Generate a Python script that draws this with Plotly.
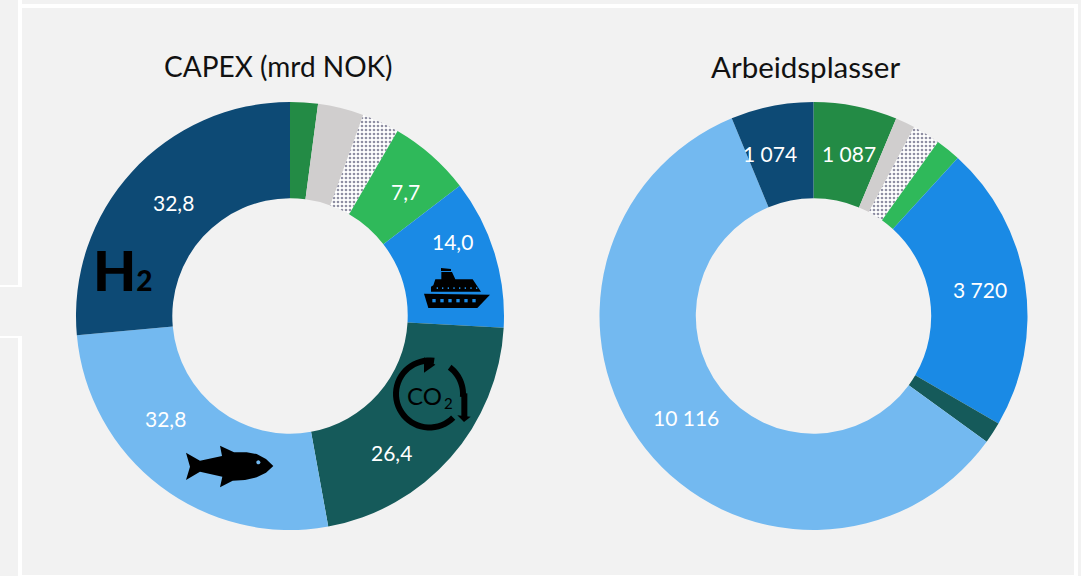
import numpy as np
import plotly.graph_objects as go

W, H = 1081, 576

segments = ["Grønn", "Grå", "Skravert", "Lysegrønn", "Skip", "CO2", "Fisk", "H2"]
capex_values = [2.6, 4.3, 3.5, 7.7, 14.0, 26.4, 32.8, 32.8]
jobs_values = [1087, 254, 360, 326, 3720, 278, 10116, 1074]
colors = ["#238b45", "#d0cece", "#ffffff", "#2fb95a", "#1a8ae5", "#155a5a", "#73b9f0", "#0d4a75"]
capex_title = "CAPEX (mrd NOK)"
jobs_title = "Arbeidsplasser"
capex_labelled = {3: (405, 191), 4: (452, 242), 5: (391, 452), 6: (165, 418), 7: (173, 202)}
jobs_labelled = {0: (849, 153), 4: (980, 289), 6: (686, 417), 7: (770, 153)}

FONT = "Lato"
BG = "#f2f2f2"


def px(x):
    return x / W


def py(y):
    return 1 - y / H


def path(points, close=True):
    s = "M" + " L".join(f"{px(x):.5f},{py(y):.5f}" for x, y in points)
    return s + (" Z" if close else "")


def poly(points, color):
    return dict(type="path", xref="paper", yref="paper", path=path(points), fillcolor=color, line_width=0, layer="above")


def rect(x0, y0, x1, y1, color="#ffffff", layer="below"):
    return dict(type="rect", xref="paper", yref="paper", x0=px(x0), x1=px(x1), y0=py(y0), y1=py(y1),
                fillcolor=color, line_width=0, layer=layer)


def pie(values, x0, x1):
    return go.Pie(
        values=values, labels=segments, sort=False, direction="clockwise", rotation=0, hole=0.55,
        marker=dict(colors=colors, line=dict(width=0),
                    pattern=dict(shape=["", "", ".", "", "", "", "", ""], fgcolor="#8f8fa3", bgcolor="#ffffff",
                                 size=4, solidity=0.35)),
        textinfo="none", showlegend=False, hoverinfo="label+value",
        domain=dict(x=[px(x0), px(x1)], y=[py(530), py(102)]),
    )


fig = go.Figure([pie(capex_values, 76, 504), pie(jobs_values, 599.5, 1027.5)])

shapes = [
    rect(18, 0, 22, 287), rect(18, 4, 1078, 8), rect(0, 285, 22, 287), rect(0, 336, 22, 338),
    rect(18, 336, 22, 576), rect(1074, 4, 1078, 576), rect(22, 575, 1074, 576),
]

# Ship icon
to_ship = lambda pts: [(280 + a / 3, 90 + b / 3) for a, b in pts]
shapes.append(poly(to_ship([(432, 611), (630, 614), (592, 654), (445, 654)]), "#000000"))
shapes.append(poly(to_ship([(453, 605), (603, 605), (578, 568), (526, 568), (516, 546), (484, 546), (484, 568),
                            (466, 568), (460, 586), (453, 590)]), "#000000"))
shapes.append(poly(to_ship([(483, 534), (513, 537), (513, 543), (483, 543)]), "#000000"))
for wx in [462, 486, 510, 534, 558, 582]:
    shapes.append(poly(to_ship([(wx - 5, 627), (wx + 5, 627), (wx + 5, 637), (wx - 5, 637)]), "#1a8ae5"))
for wx in [472, 488, 505, 522, 539, 556, 573, 590]:
    shapes.append(poly(to_ship([(wx - 2, 592), (wx + 2, 592), (wx + 2, 597), (wx - 2, 597)]), "#1a8ae5"))

# Fish icon
to_fish = lambda pts: [(60 + a / 3, 230 + b / 3) for a, b in pts]
shapes.append(poly(to_fish([(378, 668), (420, 692), (486, 678), (480, 647), (522, 667), (560, 667), (590, 672),
                            (618, 687), (640, 708), (618, 728), (590, 742), (555, 750), (518, 752), (480, 772),
                            (487, 740), (420, 725), (378, 750), (390, 710)]), "#000000"))
shapes.append(poly(to_fish([(595 + 6 * np.cos(t), 697 + 6 * np.sin(t)) for t in np.linspace(0, 6.28, 14)]), "#73b9f0"))

# CO2 circular arrows
cx, cy, r_o, r_i = 429.5, 394, 36.5, 30.5


def ring(a0, a1):
    ang = np.radians(np.linspace(a0, a1, 40))
    outer = [(cx + r_o * np.sin(t), cy - r_o * np.cos(t)) for t in ang]
    inner = [(cx + r_i * np.sin(t), cy - r_i * np.cos(t)) for t in ang[::-1]]
    return outer + inner


shapes.append(poly(ring(135, 368), "#000000"))
shapes.append(poly(ring(37, 95), "#000000"))
to_co2 = lambda pts: [(380 + a / 3, 340 + b / 3) for a, b in pts]
shapes.append(poly(to_co2([(132, 52), (166, 74), (132, 98)]), "#000000"))
shapes.append(poly(to_co2([(244, 160), (262, 160), (262, 232), (244, 232)]), "#000000"))
shapes.append(poly(to_co2([(232, 226), (272, 230), (252, 246)]), "#000000"))

annotations = []


def label(text, x, y, size, color="#ffffff", **kw):
    annotations.append(dict(text=text, x=px(x), y=py(y), xref="paper", yref="paper", showarrow=False,
                            xanchor="center", yanchor="middle", font=dict(family=FONT, size=size, color=color, **kw)))


def fmt_capex(v):
    return f"{v:.1f}".replace(".", ",")


def fmt_jobs(v):
    return f"{v:,}".replace(",", " ")


for i, (x, y) in capex_labelled.items():
    label(fmt_capex(capex_values[i]), x, y, 21)
for i, (x, y) in jobs_labelled.items():
    label(fmt_jobs(jobs_values[i]), x, y, 21)

label(capex_title, 278, 66, 28, "#111111")
label(jobs_title, 805, 66, 29.5, "#111111")
label('H<span style="font-size:28px">2</span>', 123, 269, 56, "#000000", weight=900)
label("CO", 424, 395, 24, "#000000")
label("2", 448, 403, 15, "#000000")

fig.update_layout(width=W, height=H, margin=dict(l=0, r=0, t=0, b=0), paper_bgcolor=BG, plot_bgcolor=BG,
                  shapes=shapes, annotations=annotations)
fig.write_html("out.html", config=dict(displayModeBar=False),
               post_script="document.body.style.margin='0';document.body.style.overflow='hidden';")
